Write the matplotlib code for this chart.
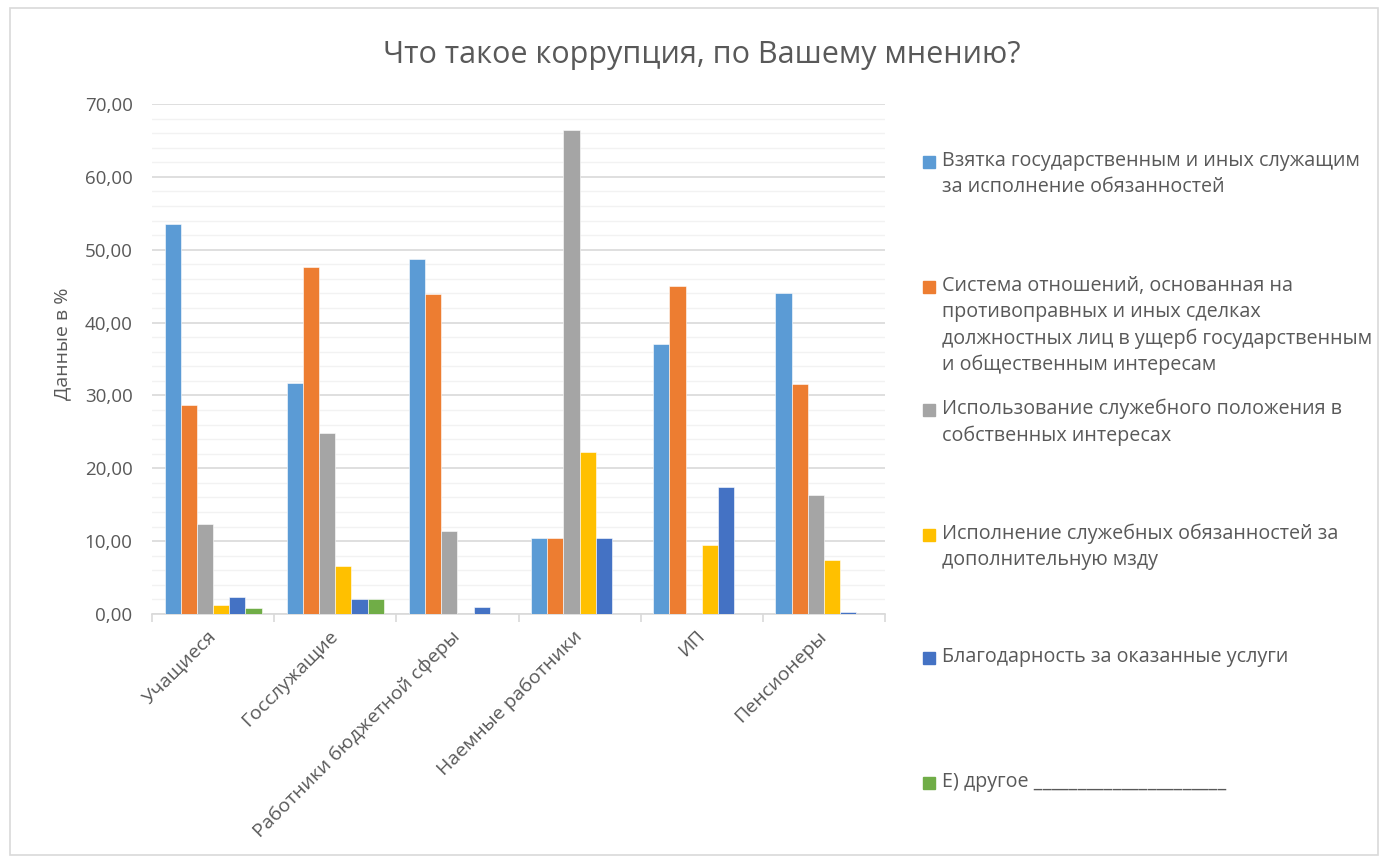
#!/usr/bin/env python3
import numpy as np
import matplotlib
matplotlib.use('Agg')
import matplotlib.pyplot as plt
from matplotlib.patches import Rectangle
from matplotlib.ticker import MultipleLocator, FuncFormatter

plt.rcParams['font.family'] = ['Open Sans', 'DejaVu Sans']

categories = ['Учащиеся', 'Госслужащие', 'Работники бюджетной сферы',
              'Наемные работники', 'ИП', 'Пенсионеры']

series_names = [
    'Взятка государственным и иных служащим\nза исполнение обязанностей',
    'Система отношений, основанная на\nпротивоправных и иных сделках\n'
    'должностных лиц в ущерб государственным\nи общественным интересам',
    'Использование служебного положения в\nсобственных интересах',
    'Исполнение служебных обязанностей за\nдополнительную мзду',
    'Благодарность за оказанные услуги',
    'Е) другое ______________________',
]

bribe = [53.5, 31.7, 48.7, 10.5, 37.0, 44.1]
relations = [28.7, 47.6, 43.9, 10.5, 45.0, 31.6]
position = [12.4, 24.8, 11.4, 66.5, 0.0, 16.3]
extra_pay = [1.3, 6.6, 0.0, 22.3, 9.5, 7.4]
gratitude = [2.3, 2.1, 0.9, 10.5, 17.5, 0.3]
other = [0.8, 2.1, 0.0, 0.0, 0.0, 0.0]

series = [bribe, relations, position, extra_pay, gratitude, other]
colors = ['#5B9BD5', '#ED7D31', '#A5A5A5', '#FFC000', '#4472C4', '#70AD47']

TEXT = '#595959'


def main():
    fig = plt.figure(figsize=(13.86, 8.61), dpi=100)
    ax = fig.add_axes([152 / 1386, 1 - 614 / 861, 733 / 1386, 510 / 861])

    # chart border
    fig.patches.append(Rectangle((10 / 1386, 6 / 861), 1368 / 1386, 847 / 861,
                                 transform=fig.transFigure, fill=False,
                                 edgecolor='#D9D9D9', linewidth=1.2))

    x = np.arange(len(categories))
    w = 0.1325
    n = len(series)
    for i, (vals, c) in enumerate(zip(series, colors)):
        ax.bar(x + (i - (n - 1) / 2) * w, vals, width=w, color=c,
               edgecolor='white', linewidth=0.4, zorder=3)

    ax.set_xlim(-0.5, len(categories) - 0.5)
    ax.set_ylim(0, 70)
    ax.yaxis.set_major_locator(MultipleLocator(10))
    ax.yaxis.set_minor_locator(MultipleLocator(2))
    ax.yaxis.set_major_formatter(FuncFormatter(lambda v, p: f'{v:.2f}'.replace('.', ',')))
    ax.grid(axis='y', which='major', color='#D9D9D9', linewidth=1.2, zorder=0)
    ax.grid(axis='y', which='minor', color='#F2F2F2', linewidth=1.0, zorder=0)
    ax.tick_params(axis='y', which='both', length=0, pad=14, labelsize=13.5,
                   labelcolor=TEXT)

    for s in ['top', 'right', 'left']:
        ax.spines[s].set_visible(False)
    ax.spines['bottom'].set_color('#D9D9D9')
    ax.spines['bottom'].set_linewidth(1.2)

    # category boundary tick marks
    ax.set_xticks(np.arange(-0.5, len(categories)), minor=True)
    ax.tick_params(axis='x', which='minor', length=6, width=1.2, color='#D9D9D9')
    ax.set_xticks(x)
    ax.set_xticklabels(categories, rotation=45, ha='right', va='center',
                       rotation_mode='anchor', fontsize=14, color=TEXT)
    ax.tick_params(axis='x', which='major', length=0, pad=14)

    ax.set_ylabel('Данные в %', fontsize=14, color=TEXT)
    ax.yaxis.set_label_coords(-0.11, 0.53)

    fig.text(702 / 1386, 1 - 55 / 861, 'Что такое коррупция, по Вашему мнению?',
             ha='center', va='center', fontsize=22, color=TEXT)

    # legend
    legend_y = [162, 287, 410, 535, 658, 783]
    for name, c, yy in zip(series_names, colors, legend_y):
        fig.patches.append(Rectangle((923 / 1386, 1 - (yy + 6) / 861), 12 / 1386, 12 / 861,
                                     transform=fig.transFigure, color=c))
        fig.text(942 / 1386, 1 - (yy - 11) / 861, name, ha='left', va='top',
                 fontsize=14.2, color=TEXT, linespacing=1.4)

    fig.savefig('out.png', dpi=100)


if __name__ == '__main__':
    main()
